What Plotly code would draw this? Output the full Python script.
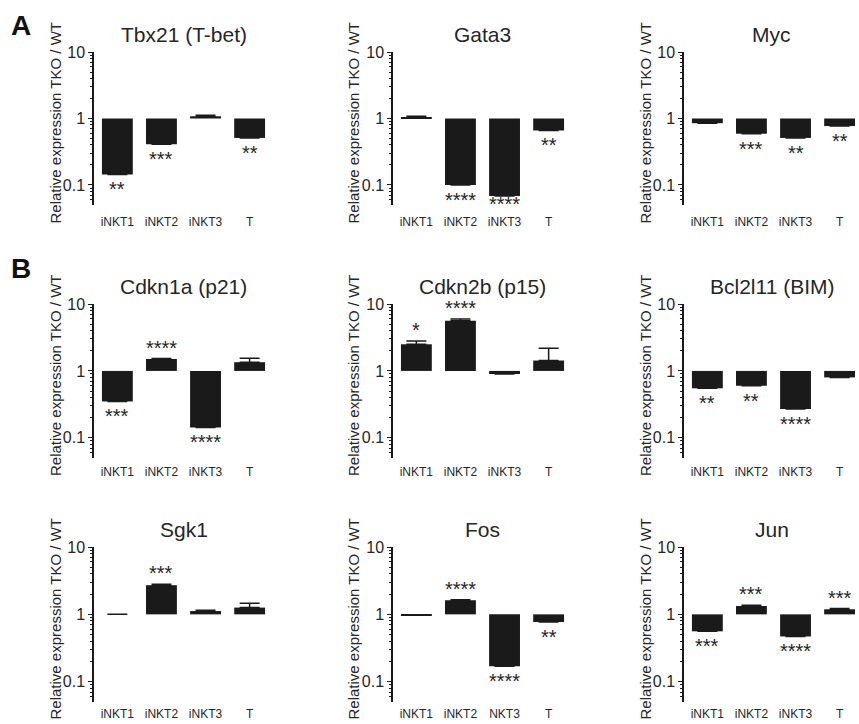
import numpy as np
import plotly.graph_objects as go

# ---------------- data ----------------
categories = ["iNKT1", "iNKT2", "iNKT3", "T"]
genes = ["Tbx21 (T-bet)", "Gata3", "Myc",
         "Cdkn1a (p21)", "Cdkn2b (p15)", "Bcl2l11 (BIM)",
         "Sgk1", "Fos", "Jun"]

tbx21 = [0.144, 0.41, 1.08, 0.51]
gata3 = [1.05, 0.10, 0.068, 0.66]
myc = [0.85, 0.59, 0.51, 0.77]
cdkn1a = [0.35, 1.51, 0.143, 1.35]
cdkn2b = [2.5, 5.6, 0.90, 1.43]
bcl2l11 = [0.55, 0.60, 0.27, 0.80]
sgk1 = [1.0, 2.71, 1.12, 1.26]
fos = [0.97, 1.62, 0.17, 0.77]
jun = [0.56, 1.33, 0.47, 1.19]

tbx21_err = [0, 0, 0.04, 0]
gata3_err = [0.03, 0, 0, 0]
myc_err = [0, 0, 0, 0]
cdkn1a_err = [0, 0.02, 0, 0.2]
cdkn2b_err = [0.3, 0.35, 0, 0.75]
bcl2l11_err = [0, 0, 0, 0]
sgk1_err = [0, 0.08, 0.03, 0.2]
fos_err = [0, 0.03, 0, 0]
jun_err = [0, 0.04, 0, 0.03]

tbx21_sig = ["**", "***", "", "**"]
gata3_sig = ["", "****", "****", "**"]
myc_sig = ["", "***", "**", "**"]
cdkn1a_sig = ["***", "****", "****", ""]
cdkn2b_sig = ["*", "****", "", ""]
bcl2l11_sig = ["**", "**", "****", ""]
sgk1_sig = ["", "***", "", ""]
fos_sig = ["", "****", "****", "**"]
jun_sig = ["***", "***", "****", "***"]

fos_ticklabels = ["iNKT1", "iNKT2", "NKT3", "T"]

y_title = "Relative expression TKO / WT"
y_ticks = [0.1, 1, 10]
y_ticklabels = ["0.1", "1", "10"]
y_minor = [0.06, 0.07, 0.08, 0.09, 0.2, 0.3, 0.4, 0.5, 0.6, 0.7, 0.8, 0.9,
           2, 3, 4, 5, 6, 7, 8, 9]

panel_values = [tbx21, gata3, myc, cdkn1a, cdkn2b, bcl2l11, sgk1, fos, jun]
panel_errors = [tbx21_err, gata3_err, myc_err, cdkn1a_err, cdkn2b_err,
                bcl2l11_err, sgk1_err, fos_err, jun_err]
panel_sigs = [tbx21_sig, gata3_sig, myc_sig, cdkn1a_sig, cdkn2b_sig,
              bcl2l11_sig, sgk1_sig, fos_sig, jun_sig]

# ---------------- layout geometry ----------------
W, H = 859, 724
FONT = "Liberation Sans, Arial, Helvetica, sans-serif"
INK = "#1a1a1a"
TXT = "#262626"

col_px = [(94, 273), (393, 572), (684, 859)]
col_xrange = [[-0.53, 3.53], [-0.53, 3.53], [-0.53, 3.44]]
col_ytitle_px = [55, 353, 645]
row_px = [(52, 205), (304, 458), (547, 702)]
row_label_standoff = [8, 5, 3]
y_range = [np.log10(0.05), 1.0]

fig = go.Figure()
layout = dict(
    width=W, height=H,
    autosize=False,
    margin=dict(l=0, r=0, t=0, b=0, pad=0, autoexpand=False),
    paper_bgcolor="white", plot_bgcolor="white",
    showlegend=False,
    font=dict(family=FONT, color=TXT),
)
annotations = []
shapes = []

for i, gene in enumerate(genes):
    r, c = divmod(i, 3)
    xn = "x" if i == 0 else f"x{i+1}"
    yn = "y" if i == 0 else f"y{i+1}"
    xkey = "xaxis" if i == 0 else f"xaxis{i+1}"
    ykey = "yaxis" if i == 0 else f"yaxis{i+1}"

    vals = panel_values[i]
    errs = panel_errors[i]
    sigs = panel_sigs[i]

    fig.add_trace(go.Bar(
        x=categories,
        y=[v - 1 for v in vals],
        base=1,
        width=0.7,
        marker=dict(color=INK, line=dict(width=0)),
        error_y=dict(type="data", array=errs, arrayminus=[0] * 4,
                     symmetric=False, color=INK, thickness=1.5, width=10),
        xaxis=xn, yaxis=yn,
        hovertext=[f"{cat}: {v}" for cat, v in zip(categories, vals)],
        hoverinfo="text",
    ))

    x0, x1 = col_px[c]
    top, bot = row_px[r]
    ppd = (bot - top) / (y_range[1] - y_range[0])  # pixels per decade
    layout[xkey] = dict(
        domain=[x0 / W, x1 / W],
        range=col_xrange[c],
        type="category",
        anchor=yn,
        automargin=False,
        showline=False, showgrid=False, zeroline=False,
        ticks="",
        tickfont=dict(size=12, color=TXT, family=FONT),
        ticklabelstandoff=row_label_standoff[r],
        tickmode="array",
        tickvals=categories,
        ticktext=fos_ticklabels if gene == "Fos" else categories,
        fixedrange=True,
    )
    layout[ykey] = dict(
        domain=[1 - bot / H, 1 - top / H],
        type="log",
        range=y_range,
        anchor=xn,
        automargin=False,
        showline=True, linecolor=INK, linewidth=1.5,
        showgrid=False, zeroline=False,
        ticks="outside", ticklen=4, tickwidth=1.2, tickcolor=INK,
        tickmode="array", tickvals=y_ticks, ticktext=y_ticklabels,
        tickfont=dict(size=16, color=TXT, family=FONT),
        minor=dict(tickmode="array", tickvals=y_minor, ticks="outside",
                   ticklen=2, tickwidth=1, tickcolor=INK, showgrid=False),
        fixedrange=True,
    )

    # y-axis title (rotated text)
    annotations.append(dict(text=y_title, xref="paper", yref=f"{yn} domain",
                            x=col_ytitle_px[c] / W, y=0.5, yshift=5,
                            xanchor="center", yanchor="middle", textangle=-90,
                            showarrow=False,
                            font=dict(size=15, color=TXT, family=FONT)))

    # baseline at 1
    shapes.append(dict(type="line", xref=f"{xn} domain", yref=yn,
                       x0=0, x1=1, y0=0, y1=0,
                       line=dict(color=INK, width=2)))

    # panel title
    annotations.append(dict(text=gene, xref=f"{xn} domain", yref=f"{yn} domain",
                            x=0.5, y=1, xanchor="center", yanchor="middle",
                            yshift=18, showarrow=False,
                            font=dict(size=21, color=TXT, family=FONT)))

    # significance stars
    for cat, v, e, s in zip(categories, vals, errs, sigs):
        if not s:
            continue
        if v < 1:
            ypos = np.log10(v) - 15 / ppd
            ypos = max(ypos, y_range[0] + 1 / ppd)
        else:
            ypos = np.log10(v + e) + 11 / ppd
        annotations.append(dict(text=s, xref=xn, yref=yn, x=cat, y=ypos,
                                xanchor="center", yanchor="middle",
                                showarrow=False,
                                font=dict(size=20, color=TXT, family=FONT)))

# panel letters
annotations.append(dict(text="<b>A</b>", xref="paper", yref="paper",
                        x=21 / W, y=1 - 26 / H, xanchor="center", yanchor="middle",
                        showarrow=False, font=dict(size=28, color="#111", family=FONT)))
annotations.append(dict(text="<b>B</b>", xref="paper", yref="paper",
                        x=21 / W, y=1 - 268 / H, xanchor="center", yanchor="middle",
                        showarrow=False, font=dict(size=28, color="#111", family=FONT)))

layout["annotations"] = annotations
layout["shapes"] = shapes
fig.update_layout(**layout)
fig.write_html(
    "out.html",
    config={"displayModeBar": False},
    post_script=(
        "var d=document.getElementById('{plot_id}');"
        "d.style.position='fixed';d.style.left='0px';d.style.top='0px';"
        "document.body.style.margin='0';document.body.style.overflow='hidden';"
    ),
)
